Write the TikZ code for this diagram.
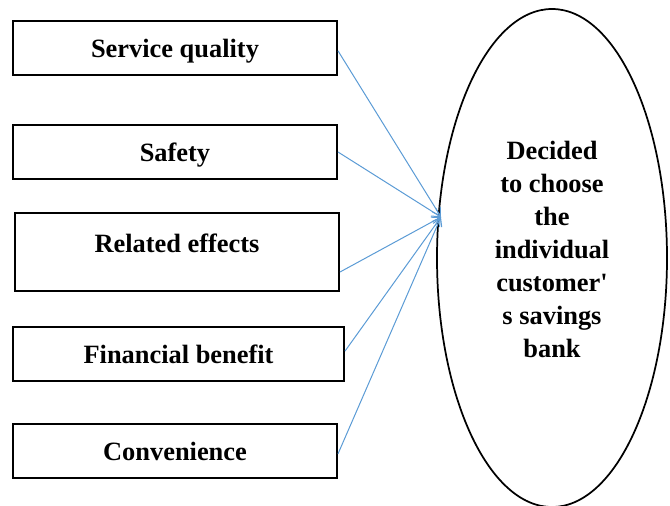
\documentclass[tikz,border=0pt]{standalone}
\usepackage{fontspec}
\setmainfont{Liberation Serif}
\usetikzlibrary{arrows.meta,shapes}
\definecolor{arrowblue}{RGB}{91,155,213}

\begin{document}
\begin{tikzpicture}[
  x=0.75pt,y=-0.75pt,
  >={Straight Barb[length=6pt,width=7pt]},
  box/.style={draw,line width=1.5pt,rectangle,minimum width=243pt,minimum height=40.5pt,
    font=\fontsize{19.8}{24.75}\selectfont\bfseries,text height=18.5pt,text depth=4pt,inner sep=0pt},
  link/.style={->,draw=arrowblue,line width=0.75pt},
  ]
  \useasboundingbox (0,0) rectangle (670,506);
  \node[box] (sq) at (175,48) {Service quality};
  \node[box] (safe) at (175,152) {Safety};
  \node[box, minimum height=58.5pt, text height=16pt, text depth=16pt] (rel) at (177,252) {Related effects};
  \node[box, minimum width=248.25pt] (fin) at (178.5,354) {Financial benefit};
  \node[box] (conv) at (175,451) {Convenience};
  \node[ellipse, draw, line width=1.3pt, minimum width=172.5pt, minimum height=373.5pt,
    align=center, text depth=13.5pt, font=\fontsize{19.8}{24.75}\selectfont\bfseries] (dec) at (552,258)
    {Decided\\to choose\\the\\individual\\customer\textquotesingle\\s savings\\bank};
  \coordinate (tip) at (441,217);

  \draw[link] (sq.-1.4) -- (tip);
  \draw[link] (safe.east) -- (tip);
  \draw[link] (rel.-7.4) -- (tip);
  \draw[link] (fin.1.4) -- (tip);
  \draw[link] (conv.-1.4) -- (tip);

\end{tikzpicture}
\end{document}
